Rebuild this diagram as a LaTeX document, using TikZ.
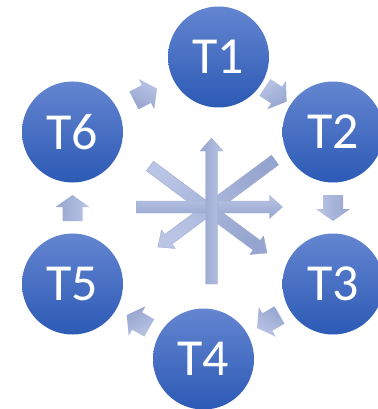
\documentclass[tikz,border=0pt]{standalone}
\usepackage{fontspec}
\setmainfont{Carlito}
\usetikzlibrary{calc}
\definecolor{circtop}{RGB}{100,133,208}
\definecolor{circbot}{RGB}{44,90,181}
\definecolor{arrtop}{RGB}{186,197,229}
\definecolor{arrbot}{RGB}{150,165,207}
\definecolor{arredge}{RGB}{160,172,208}
\tikzset{
  task/.style={circle, minimum size=101pt, inner sep=0pt,
    top color=circtop, bottom color=circbot, text=white,
    font=\fontsize{52}{52}\selectfont},
  arrowfill/.style={top color=arrtop, bottom color=arrbot},
  cyclearrow/.pic={\path[arrowfill, shading angle=-#1]
    (-13,-10) -- (1,-10) -- (1,-17) -- (13,0) -- (1,17) -- (1,10) -- (-13,10) -- cycle;},
  stararrow/.pic={\path[arrowfill, draw=arredge, line width=0.4pt, shading angle=-#1]
    (-73,-6) -- (60,-6) -- (60,-11.5) -- (73,0) -- (60,11.5) -- (60,6) -- (-73,6) -- cycle;}
}
\begin{document}
\begin{tikzpicture}[x=1pt, y=1pt]
  \useasboundingbox (0,0) rectangle (377,-409);
  % tasks
  \node[task] (T1) at (218.5,-57) {T1};
  \node[task] (T2) at (333,-132) {T2};
  \node[task] (T3) at (333,-284) {T3};
  \node[task] (T4) at (203.5,-359) {T4};
  \node[task] (T5) at (72.5,-284) {T5};
  \node[task] (T6) at (72.5,-132) {T6};
  % cycle arrows
  \pic[rotate=27.2]  at ($(T6)!0.5!(T1)$) {cyclearrow=27.2};
  \pic[rotate=-33.2] at ($(T1)!0.5!(T2)$) {cyclearrow=-33.2};
  \pic[rotate=-90]   at ($(T2)!0.5!(T3)$) {cyclearrow=-90};
  \pic[rotate=210.1] at ($(T3)!0.5!(T4)$) {cyclearrow=210.1};
  \pic[rotate=150.2] at ($(T4)!0.5!(T5)$) {cyclearrow=150.2};
  \pic[rotate=90]    at ($(T5)!0.5!(T6)$) {cyclearrow=90};
  % central star
  \coordinate (d1) at (208.5,-209.5);
  \coordinate (d2) at (216.5,-203.5);
  \coordinate (h) at (209.5,-207);
  \coordinate (v) at (211.5,-211);
  \pic[rotate=-36.6] at (d1) {stararrow=-36.6};
  \pic[rotate=216.6] at (d2) {stararrow=216.6};
  \pic at (h) {stararrow=0};
  \pic[rotate=90] at (v) {stararrow=90};
\end{tikzpicture}
\end{document}
